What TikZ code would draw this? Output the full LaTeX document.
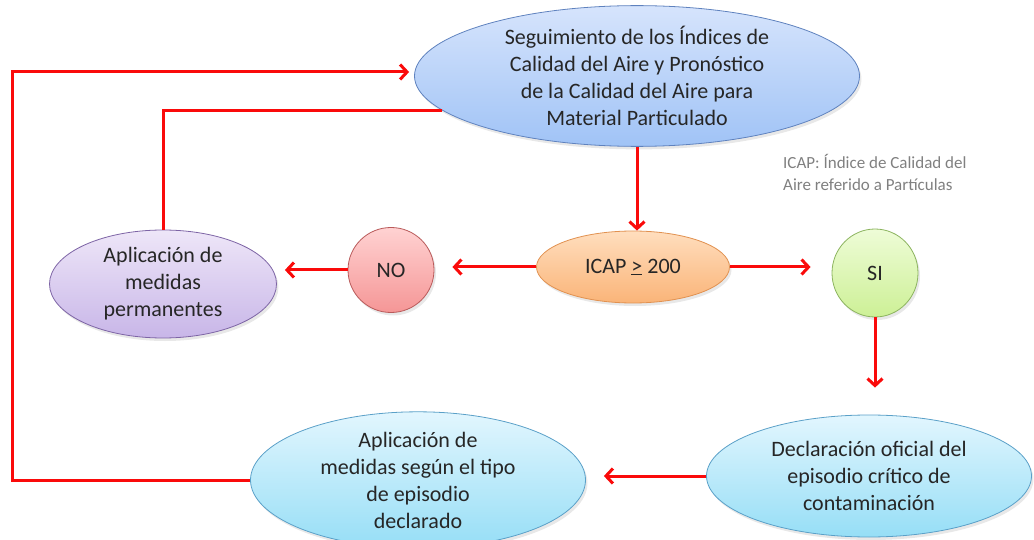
\documentclass[tikz,border=0pt]{standalone}
\usepackage{fontspec}
\setmainfont{Carlito}
\usetikzlibrary{shapes.geometric, positioning, arrows.meta, shadows}

\definecolor{flowred}{RGB}{250,10,10}
\definecolor{blueA}{RGB}{214,228,252}
\definecolor{blueB}{RGB}{160,195,246}
\definecolor{blueD}{RGB}{95,130,190}
\definecolor{cyanA}{RGB}{226,246,254}
\definecolor{cyanB}{RGB}{150,222,246}
\definecolor{cyanD}{RGB}{90,160,200}
\definecolor{orangeA}{RGB}{255,222,190}
\definecolor{orangeB}{RGB}{250,180,120}
\definecolor{orangeD}{RGB}{225,145,80}
\definecolor{pinkA}{RGB}{255,210,210}
\definecolor{pinkB}{RGB}{245,150,150}
\definecolor{pinkD}{RGB}{185,90,90}
\definecolor{lilacA}{RGB}{238,230,248}
\definecolor{lilacB}{RGB}{200,182,232}
\definecolor{lilacD}{RGB}{125,100,165}
\definecolor{limeA}{RGB}{238,252,215}
\definecolor{limeB}{RGB}{205,240,150}
\definecolor{limeD}{RGB}{140,180,95}

\tikzset{
  blob/.style={ellipse, draw, line width=0.8pt, inner sep=0pt, align=center,
    text=black!85, font=\fontsize{22}{27}\selectfont,
    drop shadow={opacity=0.18, shadow xshift=2pt, shadow yshift=-3pt}},
  blue blob/.style={blob, top color=blueA, bottom color=blueB, draw=blueD},
  cyan blob/.style={blob, top color=cyanA, bottom color=cyanB, draw=cyanD},
  orange blob/.style={blob, top color=orangeA, bottom color=orangeB, draw=orangeD},
  pink blob/.style={blob, top color=pinkA, bottom color=pinkB, draw=pinkD},
  lilac blob/.style={blob, top color=lilacA, bottom color=lilacB, draw=lilacD},
  lime blob/.style={blob, top color=limeA, bottom color=limeB, draw=limeD},
  flow/.style={draw=flowred, line width=3pt, -{Straight Barb[length=7pt, width=15pt]}},
}

\begin{document}
\begin{tikzpicture}[x=1pt, y=-1pt]
    \useasboundingbox (0,0) rectangle (1034,540);
    % Layout: top process, decision row, bottom row

    \node[blue blob, minimum width=445pt, minimum height=137pt] (seg) at (637,76)
        {Seguimiento de los Índices de\\Calidad del Aire y Pronóstico\\de la Calidad del Aire para\\Material Particulado};
    \node[orange blob, minimum width=193pt, minimum height=72pt] (icap) at (633,267) {ICAP \underline{>} 200};
    \node[pink blob, minimum width=86pt, minimum height=85pt] (no) at (391,270) {NO};
    \node[lilac blob, minimum width=227pt, minimum height=108pt] (perm) at (163,284)
        {Aplicación de\\medidas\\permanentes};
    \node[lime blob, minimum width=86pt, minimum height=88pt] (si) at (875,273) {SI};
    % Bottom row
    \node[cyan blob, minimum width=325pt, minimum height=122pt] (decl) at (869,476)
        {Declaración oficial del\\episodio crítico de\\contaminación};
    \node[cyan blob, minimum width=335pt, minimum height=124pt] (medidas) at (418,480)
        {Aplicación de\\medidas según el tipo\\de episodio\\declarado};

    % Note
    \node[anchor=north west, align=left, inner sep=0pt, text=black!50,
          font=\fontsize{17}{22}\selectfont] (nota) at (783,154)
        {ICAP: Índice de Calidad del\\Aire referido a Partículas};

    % Connectors
    \coordinate (loop) at (12,72);
    \draw[flow, shorten >=5pt] (medidas.west) -| (loop) -- (loop -| seg.west);
    \draw[flow, -] (seg.190) -| (perm.north);
    \draw[flow] (seg.south) -- (seg.south |- icap.north);
    \draw[flow, shorten >=18pt] (icap.west) -- (icap.west -| no.east);
    \draw[flow, shorten >=8pt] (no.west) -- (no.west -| perm.east);
    \draw[flow, shorten >=21pt] (icap.east) -- (icap.east -| si.west);
    \draw[flow, shorten >=27pt] (si.south) -- (si.south |- decl.north);
    \draw[flow, shorten >=18pt] (decl.west) -- (decl.west -| medidas.east);

\end{tikzpicture}
\end{document}
